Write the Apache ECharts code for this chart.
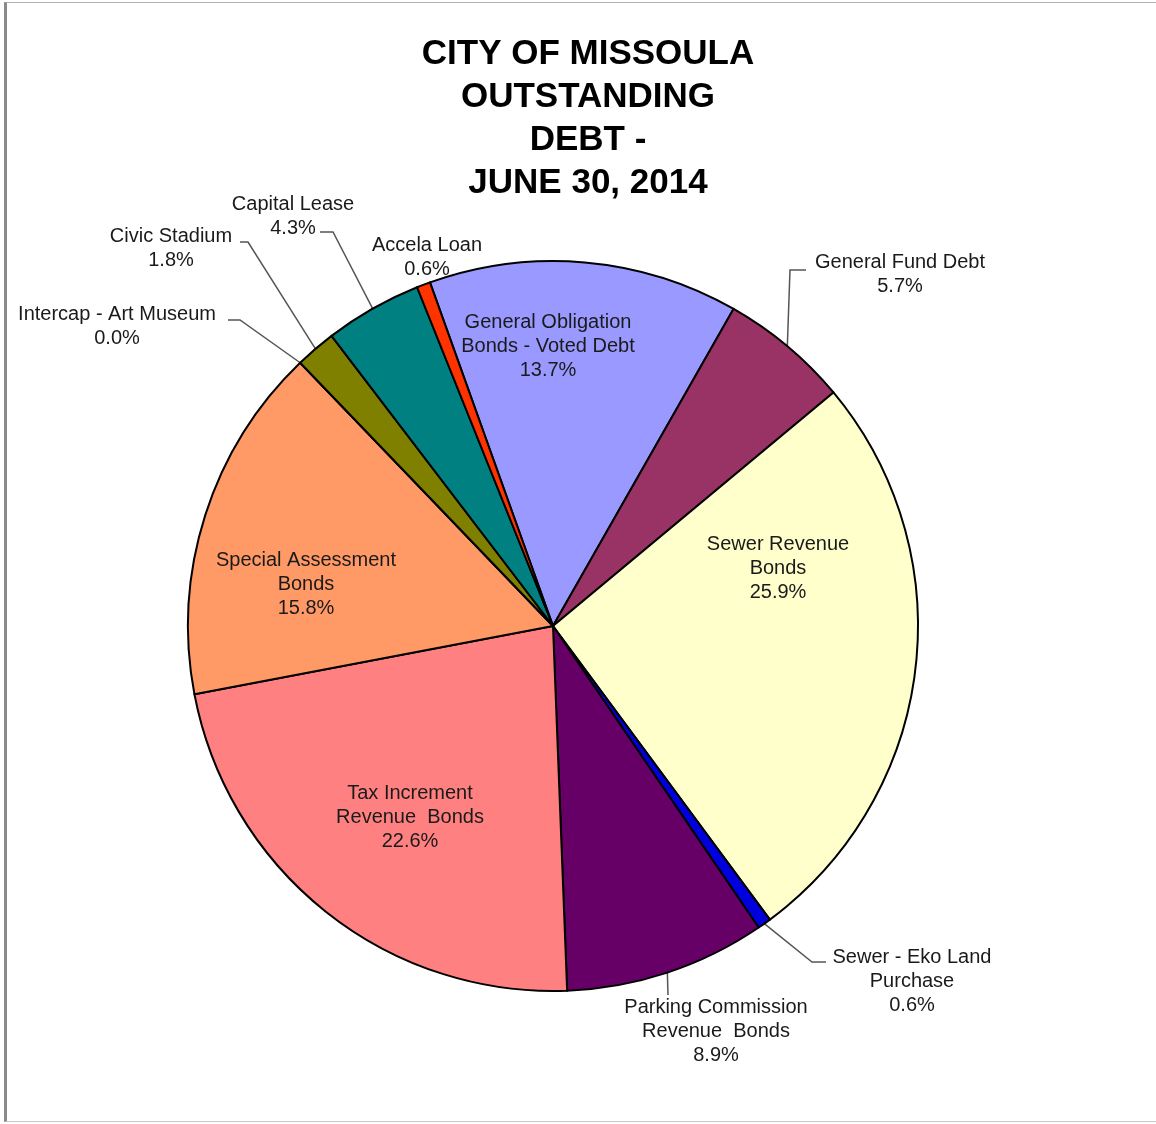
<!DOCTYPE html>
<html>
<head>
<meta charset="utf-8">
<script src="https://cdn.jsdelivr.net/npm/echarts@6/dist/echarts.min.js"></script>
<style>
  html, body { margin: 0; padding: 0; background: #fff; }
  #frame {
    position: absolute; left: 4px; top: 2px; width: 1150px; height: 1118px;
    border-left: 3px solid #8a8a8a; border-top: 1px solid #b0b0b0; border-bottom: 1px solid #c8c8c8;
  }
  #main { position: absolute; left: 0; top: 0; width: 1156px; height: 1124px; }
</style>
</head>
<body>
<div id="frame"></div>
<div id="main"></div>
<script>
// debt categories, clockwise from the General Obligation slice
const categories = [
  'General Obligation\nBonds - Voted Debt',
  'General Fund Debt',
  'Sewer Revenue\nBonds',
  'Sewer - Eko Land\nPurchase',
  'Parking Commission\nRevenue  Bonds',
  'Tax Increment\nRevenue  Bonds',
  'Special Assessment\nBonds',
  'Intercap - Art Museum',
  'Civic Stadium',
  'Capital Lease',
  'Accela Loan'
]
// share of outstanding debt, %
const shares = [13.7, 5.7, 25.9, 0.6, 8.9, 22.6, 15.8, 0.0, 1.8, 4.3, 0.6]
const colors = ['#9999ff', '#993366', '#ffffcc', '#0000dd', '#660066', '#ff8080',
                '#ff9966', '#ccccff', '#808000', '#008080', '#ff3300']
const insideLabels = [true, false, true, false, false, true, true, false, false, false, false]

// where each label sits (centre of text block) and the elbow of its leader line
const labelPos = [
  { x: 548, y: 346 },
  { x: 900, y: 274, line: [[790, 270], [806, 270]] },
  { x: 778, y: 568 },
  { x: 912, y: 981, line: [[812, 962], [826, 962]] },
  { x: 716, y: 1031, line: [[668, 995], [668, 995]] },
  { x: 410, y: 817 },
  { x: 306, y: 584 },
  { x: 117, y: 326, line: [[240, 320], [228, 320]] },
  { x: 171, y: 248, line: [[248, 242], [240, 242]] },
  { x: 293, y: 216, line: [[333, 232], [320, 232]] },
  { x: 427, y: 257 }
]

const main = document.getElementById('main')
var myChart = echarts.init(main)

myChart.setOption({
  animation: false,
  title: {
    text: 'CITY OF MISSOULA\nOUTSTANDING\nDEBT -\nJUNE 30, 2014',
    left: 583,
    top: 28,
    textAlign: 'center',
    textStyle: {
      fontFamily: 'Liberation Sans',
      fontSize: 35,
      fontWeight: 'bold',
      lineHeight: 43,
      color: '#000'
    }
  },
  series: [{
    type: 'pie',
    center: [553, 626],
    radius: 365,
    startAngle: 109.7,
    clockwise: true,
    avoidLabelOverlap: false,
    itemStyle: {
      borderColor: '#000',
      borderWidth: 2
    },
    label: {
      fontFamily: 'Liberation Sans',
      fontSize: 20,
      lineHeight: 24,
      color: '#1a1a1a',
      formatter: function (p) {
        return p.name + '\n' + p.value.toFixed(1) + '%'
      }
    },
    labelLine: {
      show: true,
      lineStyle: { color: '#555', width: 1.5 }
    },
    labelLayout: function (params) {
      const pos = labelPos[params.dataIndex]
      const res = { x: pos.x, y: pos.y, align: 'center', verticalAlign: 'middle' }
      if (pos.line && params.labelLinePoints) {
        const start = params.labelLinePoints[0]
        res.labelLinePoints = [start, pos.line[0], pos.line[1]]
      }
      return res
    },
    data: categories.map(function (name, i) {
      return {
        name: name,
        value: shares[i],
        itemStyle: { color: colors[i] },
        label: { position: insideLabels[i] ? 'inside' : 'outside' },
        labelLine: { show: !insideLabels[i] && i !== 10 }
      }
    })
  }]
})
</script>
</body>
</html>
